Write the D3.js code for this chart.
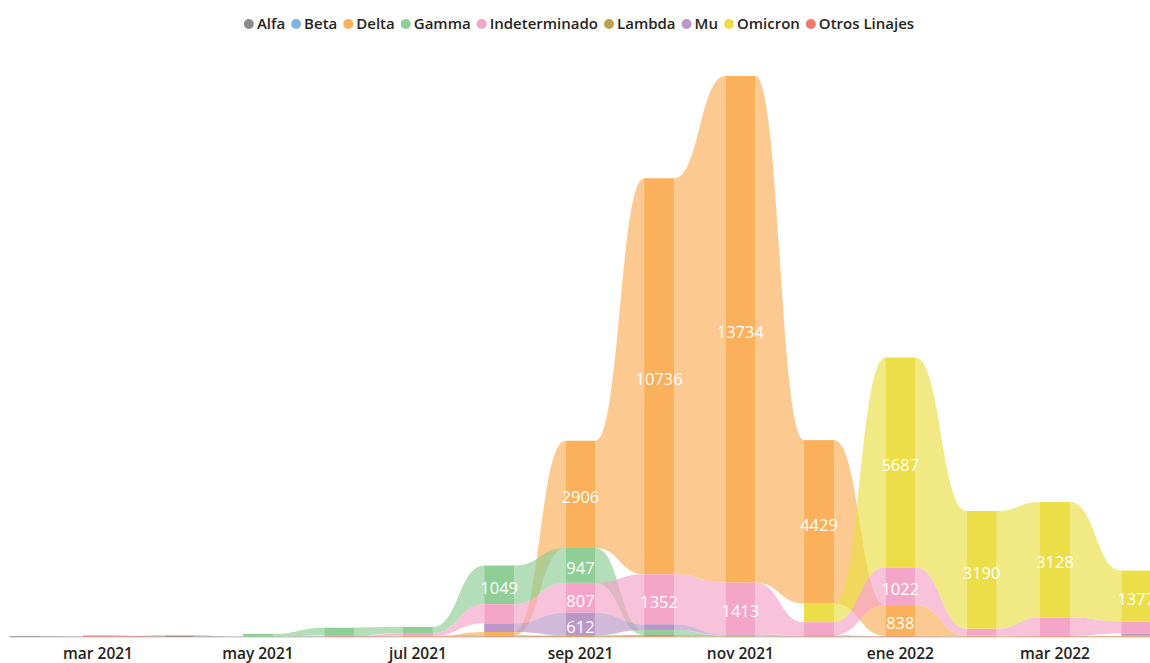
<!DOCTYPE html>
<html>
<head>
<meta charset="utf-8">
<script src="https://cdn.jsdelivr.net/npm/d3@7"></script>
<style>
  body { margin: 0; background: #fff; }
  svg { display: block; font-family: "Open Sans", "Noto Sans", sans-serif; }
</style>
</head>
<body>
<div id="chart"></div>
<script>
// months (first day of each month)
const months = ["2021-02", "2021-03", "2021-04", "2021-05", "2021-06", "2021-07", "2021-08",
    "2021-09", "2021-10", "2021-11", "2021-12", "2022-01", "2022-02", "2022-03", "2022-04"];

const seriesNames = ["Alfa", "Beta", "Delta", "Gamma", "Indeterminado", "Lambda", "Mu", "Omicron", "Otros Linajes"];
const seriesColors = ["#8c8c8c", "#7fb6e0", "#fbb15b", "#8fcf97", "#f4a6c8", "#bfa14d", "#bb98c8", "#ebde48", "#ef7b6b"];

// values per series, one per month
const alfa = [20, 10, 35, 5, 8, 5, 5, 3, 2, 0, 0, 0, 0, 0, 0];
const beta = [0, 0, 0, 0, 0, 0, 0, 0, 0, 5, 3, 5, 3, 3, 0];
const delta = [0, 0, 0, 0, 0, 5, 90, 2906, 10736, 13734, 4429, 838, 15, 5, 20];
const gamma = [0, 0, 0, 80, 215, 165, 1049, 947, 130, 10, 0, 0, 0, 0, 0];
const indeterminado = [0, 0, 0, 0, 5, 80, 520, 807, 1352, 1413, 360, 1022, 190, 505, 330];
const lambda = [0, 0, 0, 0, 5, 10, 30, 20, 15, 10, 10, 8, 8, 8, 8];
const mu = [0, 0, 0, 0, 0, 0, 235, 612, 160, 20, 5, 0, 0, 0, 60];
const omicron = [0, 0, 0, 0, 0, 0, 0, 0, 0, 0, 505, 5687, 3190, 3128, 1377];
const otros = [0, 30, 5, 0, 20, 10, 10, 25, 40, 15, 25, 15, 10, 10, 5];

const seriesValues = [alfa, beta, delta, gamma, indeterminado, lambda, mu, omicron, otros];

// x axis tick labels
const tickMonths = ["2021-03", "2021-05", "2021-07", "2021-09", "2021-11", "2022-01", "2022-03"];
const tickLabels = ["mar 2021", "may 2021", "jul 2021", "sep 2021", "nov 2021", "ene 2022", "mar 2022"];

const width = 1150, height = 663;
const barWidth = 30;
const textColor = "#252423";
const parse = d3.timeParse("%Y-%m");

const svg = d3.select("#chart")
    .append("svg")
    .attr("width", width)
    .attr("height", height);

const x = d3.scaleTime()
    .domain([parse("2021-02"), parse("2022-04")])
    .range([24.6, 1136.3]);

// stack each month: largest value on top
const columns = months.map((m, i) => {
    const items = seriesNames.map((name, s) => ({ s, value: seriesValues[s][i] }))
        .sort((a, b) => a.value - b.value || b.s - a.s);
    let acc = 0;
    const pos = {};
    items.forEach(d => {
        pos[d.s] = { y0: acc, y1: acc + d.value, value: d.value };
        acc += d.value;
    });
    return { date: parse(m), total: acc, pos };
});

const y = d3.scaleLinear()
    .domain([0, d3.max(columns, d => d.total)])
    .range([637, 76]);

const plot = svg.append("g");

// faint baseline under the ribbons
plot.append("line")
    .attr("x1", 10)
    .attr("x2", width)
    .attr("y1", 637)
    .attr("y2", 637)
    .attr("stroke", "#c8c6c4")
    .attr("stroke-width", 1);

// ribbons between neighbour months
const ribbons = [];
seriesNames.forEach((name, s) => {
    for (let i = 0; i < columns.length - 1; i++) {
        const a = columns[i].pos[s], b = columns[i + 1].pos[s];
        if (a.value <= 0 || b.value <= 0) continue;
        ribbons.push({ s, i, a, b });
    }
});

plot.selectAll("path.ribbon")
    .data(ribbons)
    .enter()
    .append("path")
    .attr("class", "ribbon")
    .attr("fill", d => seriesColors[d.s])
    .attr("fill-opacity", 0.68)
    .attr("d", d => {
        const x0 = x(columns[d.i].date) + barWidth / 2;
        const x1 = x(columns[d.i + 1].date) - barWidth / 2;
        const xm = (x0 + x1) / 2;
        const t0 = y(d.a.y1), t1 = y(d.b.y1), b0 = y(d.a.y0), b1 = y(d.b.y0);
        return `M${x0},${t0} C${xm},${t0} ${xm},${t1} ${x1},${t1} L${x1},${b1} C${xm},${b1} ${xm},${b0} ${x0},${b0} Z`;
    });

// bars
const segments = [];
columns.forEach((c, i) => {
    seriesNames.forEach((name, s) => {
        const p = c.pos[s];
        if (p.value > 0) segments.push({ s, date: c.date, y0: p.y0, y1: p.y1, value: p.value });
    });
});

plot.selectAll("rect.bar")
    .data(segments)
    .enter()
    .append("rect")
    .attr("class", "bar")
    .attr("x", d => x(d.date) - barWidth / 2)
    .attr("width", barWidth)
    .attr("y", d => y(d.y1))
    .attr("height", d => y(d.y0) - y(d.y1))
    .attr("fill", d => seriesColors[d.s]);

// data labels where the segment is tall enough
plot.selectAll("text.label")
    .data(segments.filter(d => y(d.y0) - y(d.y1) >= 21))
    .enter()
    .append("text")
    .attr("class", "label")
    .attr("x", d => x(d.date))
    .attr("y", d => (y(d.y0) + y(d.y1)) / 2 + 3)
    .attr("dy", "0.35em")
    .attr("text-anchor", "middle")
    .attr("fill", "#fff")
    .style("font-size", "16.5px")
    .text(d => d.value);

// x axis labels
svg.append("g")
    .selectAll("text")
    .data(tickMonths)
    .enter()
    .append("text")
    .attr("x", d => x(parse(d)))
    .attr("y", 658.5)
    .attr("text-anchor", "middle")
    .attr("fill", textColor)
    .style("font-size", "15.5px")
    .style("font-weight", 600)
    .text((d, i) => tickLabels[i]);

// legend
const legend = svg.append("g");
let lx = 5;
seriesNames.forEach((name, s) => {
    const item = legend.append("g").attr("transform", `translate(${lx},0)`);
    item.append("circle")
        .attr("cx", 0)
        .attr("cy", 24)
        .attr("r", 5)
        .attr("fill", seriesColors[s]);
    const t = item.append("text")
        .attr("x", 8)
        .attr("y", 24)
        .attr("dy", "0.35em")
        .attr("fill", textColor)
        .style("font-size", "15px")
        .style("font-weight", 600)
        .text(name);
    lx += 8 + t.node().getComputedTextLength() + 11;
});
const legendWidth = lx - 11;
legend.attr("transform", `translate(${(width - legendWidth) / 2 + 4},0)`);
</script>
</body>
</html>
